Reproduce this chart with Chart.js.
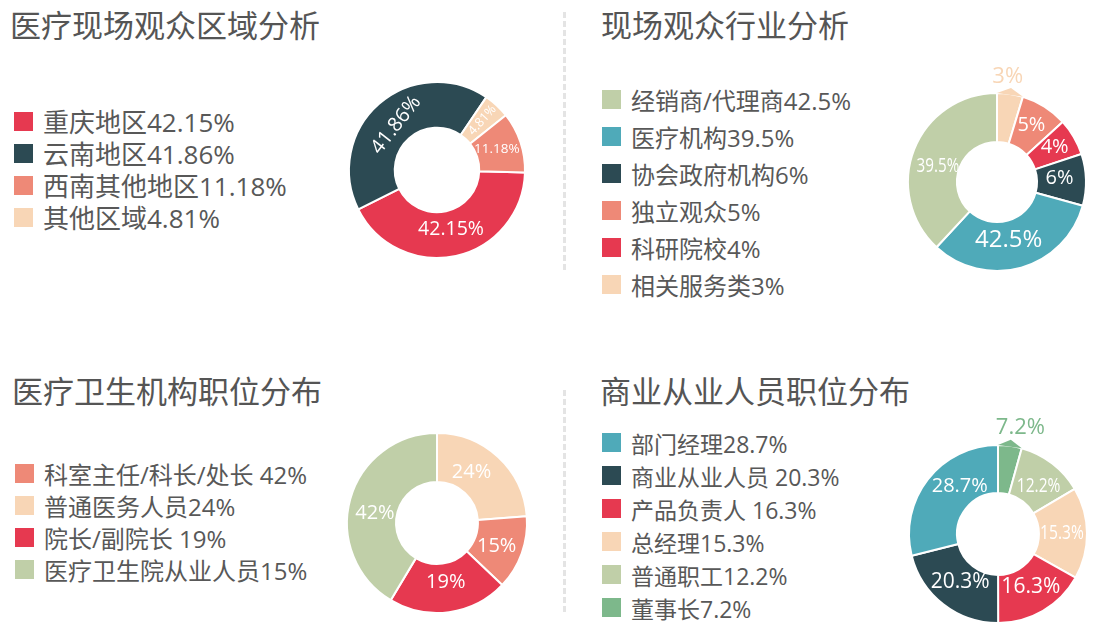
<!DOCTYPE html>
<html>
<head>
<meta charset="utf-8">
<script src="https://cdn.jsdelivr.net/npm/chart.js@4.4.1/dist/chart.umd.min.js"></script>
<style>
    html, body { margin: 0; padding: 0; background: #fff; overflow: hidden; }
    body { width: 1099px; height: 637px; position: relative;
           font-family: "Open Sans", "Noto Sans CJK SC", sans-serif; color: #555; }
    .title { position: absolute; font-size: 31px; line-height: 1; white-space: nowrap; color: #555;
             font-family: "Noto Sans CJK SC", sans-serif; }
    .legend { position: absolute; white-space: nowrap; color: #585858; }
    .legend div { display: flex; align-items: center; }
    .legend span.box { display: inline-block; width: 19px; height: 19px; margin-right: 10px; flex: none; }
    .divider { position: absolute; width: 0; border-left: 3px dashed #e4e4e4; }
    canvas { position: absolute; }
</style>
</head>
<body>

<div class="title" style="left:10px; top:8px;">医疗现场观众区域分析</div>
<div class="title" style="left:601px; top:8px;">现场观众行业分析</div>
<div class="title" style="left:12px; top:374px;">医疗卫生机构职位分布</div>
<div class="title" style="left:600px; top:374px;">商业从业人员职位分布</div>

<div class="divider" style="left:563px; top:12px; height:258px;"></div>
<div class="divider" style="left:563px; top:390px; height:222px;"></div>

<div class="legend" id="legend1" style="left:14px; top:105px; font-size:26px;"></div>
<div class="legend" id="legend2" style="left:602px; top:81px; font-size:24px;"></div>
<div class="legend" id="legend3" style="left:15px; top:457px; font-size:24px;"></div>
<div class="legend" id="legend4" style="left:602px; top:426px; font-size:23px;"></div>

<canvas id="chart1" width="240" height="240" style="left:317px; top:50px;"></canvas>
<canvas id="chart2" width="200" height="250" style="left:897px; top:57px;"></canvas>
<canvas id="chart3" width="240" height="240" style="left:317px; top:403px;"></canvas>
<canvas id="chart4" width="200" height="250" style="left:898px; top:409px;"></canvas>

<script>
// colours
const RED = "#e63950", DARK = "#2c4a53", SALMON = "#ee8977", PEACH = "#f8d6b6",
      SAGE = "#c0cfa8", TEAL = "#4faab9", GREEN = "#7db88b";

// chart 1: 医疗现场观众区域分析
const legend1Labels = ["重庆地区42.15%", "云南地区41.86%", "西南其他地区11.18%", "其他区域4.81%"];
const legend1Colors = [RED, DARK, SALMON, PEACH];
const slices1 = [42.15, 41.86, 4.81, 11.18];
const sliceLabels1 = ["42.15%", "41.86%", "4.81%", "11.18%"];
const sliceColors1 = [RED, DARK, PEACH, SALMON];

// chart 2: 现场观众行业分析 (slice sizes read from the arcs)
const legend2Labels = ["经销商/代理商42.5%", "医疗机构39.5%", "协会政府机构6%", "独立观众5%", "科研院校4%", "相关服务类3%"];
const legend2Colors = [SAGE, TEAL, DARK, SALMON, RED, PEACH];
const slices2 = [4.7, 8.5, 6.7, 9.4, 32.6, 38.1];
const sliceLabels2 = ["3%", "5%", "4%", "6%", "42.5%", "39.5%"];
const sliceColors2 = [PEACH, SALMON, RED, DARK, TEAL, SAGE];

// chart 3: 医疗卫生机构职位分布
const legend3Labels = ["科室主任/科长/处长 42%", "普通医务人员24%", "院长/副院长 19%", "医疗卫生院从业人员15%"];
const legend3Colors = [SALMON, PEACH, RED, SAGE];
const slices3 = [23.8, 13.3, 21.5, 41.4];
const sliceLabels3 = ["24%", "15%", "19%", "42%"];
const sliceColors3 = [PEACH, SALMON, RED, SAGE];

// chart 4: 商业从业人员职位分布
const legend4Labels = ["部门经理28.7%", "商业从业人员 20.3%", "产品负责人 16.3%", "总经理15.3%", "普通职工12.2%", "董事长7.2%"];
const legend4Colors = [TEAL, DARK, RED, PEACH, SAGE, GREEN];
const slices4 = [4.3, 12.25, 16.6, 16.8, 21.1, 28.9];
const sliceLabels4 = ["7.2%", "12.2%", "15.3%", "16.3%", "20.3%", "28.7%"];
const sliceColors4 = [GREEN, SAGE, PEACH, RED, DARK, TEAL];


function build_legend(id, labels, colors, rowHeight) {
    var box = document.getElementById(id);
    labels.forEach((text, i) => {
        var row = document.createElement("div");
        row.style.height = rowHeight + "px";
        var sq = document.createElement("span");
        sq.className = "box";
        sq.style.background = colors[i];
        var tx = document.createElement("span");
        tx.textContent = text;
        row.appendChild(sq);
        row.appendChild(tx);
        box.appendChild(row);
    });
};


// draws the value text on each arc; style: size, dx, dy, rot (deg), sx (x-scale), out (outside label)
const sliceText = {
    id: "sliceText",
    afterDatasetsDraw(chart) {
        var ctx = chart.ctx;
        var styles = chart.options.plugins.sliceText.styles;
        var texts = chart.options.plugins.sliceText.texts;
        chart.getDatasetMeta(0).data.forEach((arc, i) => {
            var st = styles[i];
            var p = arc.getProps(["x", "y", "startAngle", "endAngle", "innerRadius", "outerRadius"], true);
            var mid = (p.startAngle + p.endAngle) / 2;
            var x, y, color = "#fff";
            if (st.out) {
                // little pointer on the slice toward its outside label
                ctx.save();
                ctx.beginPath();
                ctx.moveTo(p.x + Math.cos(p.startAngle) * p.outerRadius, p.y + Math.sin(p.startAngle) * p.outerRadius);
                ctx.lineTo(p.x + Math.cos(mid) * (p.outerRadius + 6), p.y + Math.sin(mid) * (p.outerRadius + 6));
                ctx.lineTo(p.x + Math.cos(p.endAngle) * p.outerRadius, p.y + Math.sin(p.endAngle) * p.outerRadius);
                ctx.closePath();
                ctx.fillStyle = chart.data.datasets[0].backgroundColor[i];
                ctx.fill();
                ctx.restore();
                var r = p.outerRadius + 18;
                x = p.x + Math.cos(mid) * r;
                y = p.y + Math.sin(mid) * r;
                color = chart.data.datasets[0].backgroundColor[i];
            } else {
                var pos = arc.tooltipPosition();
                x = pos.x;
                y = pos.y;
            }
            ctx.save();
            ctx.translate(x + (st.dx || 0), y + (st.dy || 0));
            ctx.rotate((st.rot || 0) * Math.PI / 180);
            ctx.scale(st.sx || 1, 1);
            ctx.font = st.size + 'px "Open Sans", "Noto Sans", sans-serif';
            ctx.fillStyle = color;
            ctx.textAlign = "center";
            ctx.textBaseline = "middle";
            ctx.fillText(texts[i], 0, 0);
            ctx.restore();
        });
    }
};


function make_donut(id, slices, colors, texts, styles, radius, cutout, rotation) {
    return new Chart(document.getElementById(id), {
        type: "doughnut",
        data: {
            labels: texts,
            datasets: [{
                data: slices,
                backgroundColor: colors,
                borderColor: "#fff",
                borderWidth: 2
            }]
        },
        options: {
            responsive: false,
            animation: false,
            events: [],
            radius: radius,
            cutout: cutout,
            rotation: rotation,
            plugins: {
                legend: { display: false },
                tooltip: { enabled: false },
                sliceText: { texts: texts, styles: styles }
            }
        },
        plugins: [sliceText]
    });
};


document.addEventListener("DOMContentLoaded", function() {
    build_legend("legend1", legend1Labels, legend1Colors, 32);
    build_legend("legend2", legend2Labels, legend2Colors, 37);
    build_legend("legend3", legend3Labels, legend3Colors, 32);
    build_legend("legend4", legend4Labels, legend4Colors, 33);

    make_donut("chart1", slices1, sliceColors1, sliceLabels1, [
        { size: 19.5, dy: -4 },
        { size: 20, dx: 2, dy: 4, rot: -52 },
        { size: 12.5, dx: 1, dy: -2, rot: -48 },
        { size: 13.5, dx: -2 }
    ], 88, "48%", 91.7);

    make_donut("chart2", slices2, sliceColors2, sliceLabels2, [
        { size: 22, out: true, dx: -5, dy: 1 },
        { size: 20, dy: -2 },
        { size: 20, dx: 2, dy: -2 },
        { size: 20, dx: -2, dy: -2 },
        { size: 24, dx: -6, dy: -4 },
        { size: 20, sx: 0.76, dx: 1, dy: 8 }
    ], 89, "45%", 0);

    make_donut("chart3", slices3, sliceColors3, sliceLabels3, [
        { size: 20, dx: -10, dy: -3 },
        { size: 20, dx: -2, dy: 1 },
        { size: 20, dy: -6 },
        { size: 20, dx: 1, dy: 8 }
    ], 90, "45.5%", 0);

    make_donut("chart4", slices4, sliceColors4, sliceLabels4, [
        { size: 22, out: true, dx: 8, dy: 0 },
        { size: 20.5, sx: 0.76, dx: 1, dy: 4 },
        { size: 20.5, sx: 0.76, dx: -1 },
        { size: 21, dy: -3 },
        { size: 21, dx: 2, dy: -3 },
        { size: 20, dx: 13, dy: -8 }
    ], 89, "46%", 0);
});
</script>
</body>
</html>
